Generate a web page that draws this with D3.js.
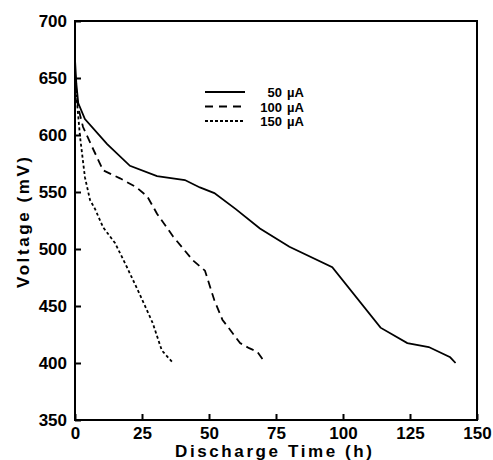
<!DOCTYPE html>
<html>
<head>
<meta charset="utf-8">
<script src="https://cdn.jsdelivr.net/npm/d3@7"></script>
<style>
  body { margin: 0; background: #fff; }
  text { font-family: "Liberation Sans", Arial, sans-serif; font-weight: bold; fill: #000; }
</style>
</head>
<body>
<div id="chart"></div>
<script>
// data: [hours, mV]
const series50 = [[0, 666], [0.5, 645], [1.2, 628], [3.7, 614], [12, 592], [20.5, 573], [30.6, 564], [41, 560.5],
  [46.6, 554], [52, 549], [60, 535], [69, 518], [80, 502], [96, 484], [114, 431], [124, 417.5], [132, 414], [140, 405], [142, 400]];
const series100 = [[0, 655], [0.6, 635], [1.1, 625], [3, 607], [6.3, 590], [10.5, 569], [16.8, 562], [23, 554], [27, 546],
  [30.6, 531], [36.6, 511], [44, 490], [48.5, 481], [52, 455], [55, 438], [61.6, 417.5], [65, 413], [68, 410], [71, 400]];
const series150 = [[0, 650], [0.5, 635], [0.9, 625], [1.9, 598], [3.7, 563], [5.6, 543], [7.5, 535], [10.5, 519], [15, 505],
  [19.4, 484], [24, 461], [29, 435], [32.4, 411], [36.6, 400]];
const legendNums = ["50", "100", "150"];
const legendUnit = "\u00b5A";
const xTicks = [0, 25, 50, 75, 100, 125, 150];
const yTicks = [350, 400, 450, 500, 550, 600, 650, 700];

const W = 493, H = 460;
const margin = { top: 21, right: 16, bottom: 40, left: 75 };
const width = 477 - margin.left;
const height = 420 - margin.top;

const svg = d3.select("#chart").append("svg")
  .attr("width", W).attr("height", H);
const g = svg.append("g")
  .attr("transform", "translate(" + margin.left + "," + margin.top + ")");

const x = d3.scaleLinear().domain([0, 150]).range([0, width]);
const y = d3.scaleLinear().domain([350, 700]).range([height, 0]);

// frame
g.append("rect")
  .attr("width", width).attr("height", height)
  .style("fill", "none").style("stroke", "#000").style("stroke-width", 2);

// axes with inward ticks
const xAxis = g.append("g").attr("transform", "translate(0," + height + ")")
  .call(d3.axisBottom(x).tickValues(xTicks).tickSizeInner(-6).tickSizeOuter(0).tickPadding(7));
const yAxis = g.append("g")
  .call(d3.axisLeft(y).tickValues(yTicks).tickSizeInner(-6).tickSizeOuter(0).tickPadding(8));
[xAxis, yAxis].forEach(a => {
  a.select(".domain").remove();
  a.selectAll("line").style("stroke", "#000").style("stroke-width", 2);
  a.selectAll("text").style("font-size", "17px").style("font-family", "Liberation Sans, Arial, sans-serif")
    .style("font-weight", "bold");
});
xAxis.selectAll("text").attr("dy", "0.72em");

// axis titles
svg.append("text")
  .attr("x", 175).attr("y", 457)
  .attr("textLength", 197).attr("lengthAdjust", "spacing")
  .style("font-size", "17px")
  .text("Discharge Time (h)");
svg.append("text")
  .attr("transform", "translate(29,288) rotate(-90)")
  .attr("textLength", 131).attr("lengthAdjust", "spacing")
  .style("font-size", "17px")
  .text("Voltage (mV)");

// curves
const line = d3.line().x(d => x(d[0])).y(d => y(d[1]));
const styles = [
  { data: series50, dash: null },
  { data: series100, dash: "8,5" },
  { data: series150, dash: "3,2.5" }
];
styles.forEach(s => {
  g.append("path")
    .attr("d", line(s.data))
    .style("fill", "none").style("stroke", "#000").style("stroke-width", 1.8)
    .style("stroke-dasharray", s.dash);
});

// legend
const legendDash = [null, "8,6", "3,2"];
const legend = svg.append("g");
legendNums.forEach((num, i) => {
  const ly = 92 + i * 14.5;
  legend.append("line")
    .attr("x1", 205).attr("x2", 245).attr("y1", ly).attr("y2", ly)
    .style("stroke", "#000").style("stroke-width", 1.8)
    .style("stroke-dasharray", legendDash[i]);
  legend.append("text")
    .attr("x", 282).attr("y", ly + 5)
    .attr("text-anchor", "end")
    .style("font-size", "13px")
    .text(num);
  legend.append("text")
    .attr("x", 287).attr("y", ly + 5)
    .style("font-size", "13px")
    .text(legendUnit);
});
</script>
</body>
</html>
